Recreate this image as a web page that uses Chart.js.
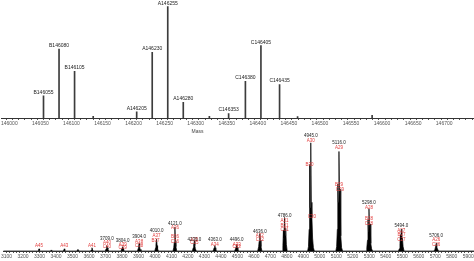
<!DOCTYPE html>
<html>
<head>
<meta charset="utf-8">
<script src="https://cdn.jsdelivr.net/npm/chart.js@4/dist/chart.umd.min.js"></script>
<style>
  body { margin: 0; background: #fff; width: 474px; height: 261px; overflow: hidden; position: relative; }
  canvas { position: absolute; left: 0; }
  #deconv { top: 0; }
  #spectrum { top: 132px; }
</style>
</head>
<body>
<canvas id="deconv" width="474" height="134"></canvas>
<canvas id="spectrum" width="474" height="129"></canvas>
<script>
// Deconvoluted masses (top panel)
const deconvMass = [146055, 146080, 146105, 146135, 146205, 146230, 146255, 146280, 146322, 146353, 146380, 146405, 146435, 146464, 146584];
const deconvInt = [20, 62, 42, 1.5, 5.5, 59, 100, 14, 1.5, 4, 33, 65, 30, 1.2, 2.5];
const deconvLabel = ['B146055', 'B146080', 'B146105', '', 'A146205', 'A146230', 'A146255', 'A146280', '', 'C146353', 'C146380', 'C146405', 'C146435', '', ''];
const deconvTicks = [146000, 146050, 146100, 146150, 146200, 146250, 146300, 146350, 146400, 146450, 146500, 146550, 146600, 146650, 146700, 146750];

// Raw m/z spectrum (bottom panel)
const specMz = [3080,
  3288, 3294, 3297, 3300, 3306,
  3366, 3372, 3378,
  3442, 3447, 3450, 3453, 3458,
  3526, 3533, 3540,
  3610, 3614, 3618, 3621, 3626,
  3699, 3704, 3706, 3709, 3712, 3715, 3720,
  3794, 3799, 3801, 3804, 3807, 3810, 3815,
  3894, 3899, 3901, 3904, 3907, 3910, 3915,
  3999, 4004, 4006, 4010, 4013, 4016, 4021,
  4109, 4114, 4117, 4121, 4124, 4127, 4132,
  4227, 4232, 4235, 4239, 4242, 4245, 4251,
  4351, 4356, 4359, 4363, 4366, 4369, 4375,
  4483, 4489, 4492, 4496, 4499, 4503, 4509,
  4623, 4629, 4632, 4636, 4639, 4643, 4649,
  4771, 4776, 4779, 4782, 4786, 4789, 4793, 4797, 4802,
  4926, 4931, 4935, 4938, 4941, 4945, 4948, 4952, 4956, 4961, 4967,
  5097, 5102, 5106, 5109, 5112, 5116, 5119, 5123, 5127, 5132, 5138,
  5280, 5285, 5289, 5292, 5295, 5298, 5301, 5305, 5309, 5314, 5320,
  5477, 5482, 5486, 5489, 5491, 5494, 5497, 5501, 5505, 5511,
  5692, 5698, 5702, 5706, 5709, 5713, 5720,
  5935];
const specInt = [0,
  0, 0.8, 2, 0.8, 0,
  0, 1, 0,
  0, 0.8, 2, 0.8, 0,
  0, 1.5, 0,
  0, 1, 3, 1.5, 0,
  0, 2, 3.5, 5, 3, 1.5, 0,
  0, 2, 3, 4, 2.5, 1, 0,
  0, 2.5, 4, 7, 4, 1.5, 0,
  0, 3, 6, 11, 5, 2, 0,
  0, 3, 8, 22, 9, 4, 0,
  0, 3, 6, 9, 5, 2, 0,
  0, 1.5, 3, 5, 3, 1, 0,
  0, 2, 4, 6, 3.5, 1, 0,
  0, 4, 9, 16, 10, 4, 0,
  0, 5, 19, 12, 31, 14, 21, 6, 0,
  0, 4, 20, 80, 40, 100, 45, 31, 12, 3, 0,
  0, 4, 20, 62, 45, 92, 50, 57, 14, 3, 0,
  0, 3, 10, 29, 18, 39, 20, 25, 7, 2, 0,
  0, 2, 7, 15, 10, 20, 11, 12, 4, 0,
  0, 1.5, 4, 7, 4, 2, 0,
  0];
const spectrumTicks = [3100, 3200, 3300, 3400, 3500, 3600, 3700, 3800, 3900, 4000, 4100, 4200, 4300, 4400, 4500, 4600, 4700, 4800, 4900, 5000, 5100, 5200, 5300, 5400, 5500, 5600, 5700, 5800, 5900];

// Peak annotations: m/z, height to put the text at, text
const mzLabelPos = [3709, 3804, 3904, 4010, 4121, 4239, 4363, 4496, 4636, 4786, 4945, 5116, 5298, 5494, 5706];
const mzLabelAt = [11, 9.2, 12.8, 18.3, 24.8, 10, 10, 10, 17.4, 33, 106.4, 100, 45, 23, 13.8];
const mzLabelText = ['3709.0', '3804.0', '3904.0', '4010.0', '4121.0', '4239.0', '4363.0', '4496.0', '4636.0', '4786.0', '4945.0', '5116.0', '5298.0', '5494.0', '5706.0'];

const ionLabelPos = [3297, 3450, 3618, 3709, 3709, 3804, 3804, 3904, 3904, 4010, 4004,
  4121, 4121, 4121, 4239, 4239, 4363, 4496, 4496, 4636, 4636, 4786, 4786, 4786,
  4945, 4938, 4952, 5116, 5116, 5122, 5298, 5298, 5298, 5494, 5496, 5494, 5706, 5706];
const ionLabelAt = [4.6, 4.6, 4.6, 7.3, 3.7, 5.5, 2.8, 8.3, 4.6, 13.8, 9.2,
  21.1, 12.8, 8.3, 10, 7.3, 5.5, 5.5, 3.7, 13.8, 10, 28.4, 23, 19.3,
  101.8, 79.8, 31.2, 95.4, 61.5, 56.9, 40.4, 29.4, 24.8, 18.3, 14.7, 10, 10, 5.5];
const ionLabelText = ['A45', 'A43', 'A41', 'A40', 'C40', 'A39', 'C39', 'A38', 'C38', 'A37', 'B37',
  'A36', 'B36', 'C36', 'A35', 'C35', 'A34', 'A33', 'C33', 'A32', 'C32', 'A31', 'B31', 'C31',
  'A30', 'B30', 'C30', 'A29', 'B29', 'C29', 'A28', 'B28', 'C28', 'A27', 'B27', 'C27', 'A26', 'C26'];

const fontFamily = "'Liberation Sans', Arial, sans-serif";

function minorTicks(from, to, step) {
  const out = [];
  for (let v = from; v <= to; v += step) out.push({ value: v });
  return out;
}

// Text drawn at the top of the sticks in the deconvoluted panel
const deconvLabelsPlugin = {
  id: 'deconvLabels',
  afterDatasetsDraw(chart) {
    const ctx = chart.ctx;
    const xs = chart.scales.x;
    const ys = chart.scales.y;
    ctx.save();
    ctx.font = '5px ' + fontFamily;
    ctx.fillStyle = '#222';
    ctx.textAlign = 'center';
    ctx.textBaseline = 'bottom';
    deconvMass.forEach((m, i) => {
      if (!deconvLabel[i]) return;
      ctx.fillText(deconvLabel[i], xs.getPixelForValue(m), ys.getPixelForValue(deconvInt[i]) - 1);
    });
    ctx.textBaseline = 'middle';
    ctx.fillStyle = '#444';
    ctx.fillText('Mass', xs.getPixelForValue(146303), chart.chartArea.bottom + 14);
    ctx.restore();
  }
};

const spectrumLabelsPlugin = {
  id: 'spectrumLabels',
  afterDatasetsDraw(chart) {
    const ctx = chart.ctx;
    const xs = chart.scales.x;
    const ys = chart.scales.y;
    ctx.save();
    ctx.font = '4.5px ' + fontFamily;
    ctx.textAlign = 'center';
    ctx.textBaseline = 'middle';
    ctx.fillStyle = '#e23c3c';
    ionLabelPos.forEach((m, i) => {
      ctx.fillText(ionLabelText[i], xs.getPixelForValue(m), ys.getPixelForValue(ionLabelAt[i]));
    });
    ctx.fillStyle = '#222';
    mzLabelPos.forEach((m, i) => {
      ctx.fillText(mzLabelText[i], xs.getPixelForValue(m), ys.getPixelForValue(mzLabelAt[i]));
    });
    ctx.restore();
  }
};

// Top panel: deconvoluted stick spectrum
new Chart(document.getElementById('deconv'), {
  type: 'bar',
  data: {
    datasets: [{
      data: deconvMass.map((m, i) => ({ x: m, y: deconvInt[i] })),
      backgroundColor: '#3c3c3c',
      barThickness: 1
    }]
  },
  options: {
    responsive: false,
    animation: false,
    devicePixelRatio: 1,
    layout: { padding: { left: 0, right: 0, top: 0, bottom: 6 } },
    plugins: { legend: { display: false }, tooltip: { enabled: false } },
    scales: {
      x: {
        type: 'linear',
        offset: false,
        min: 145987,
        max: 146748,
        afterBuildTicks: axis => { axis.ticks = minorTicks(146000, 146740, 10); },
        ticks: {
          autoSkip: false,
          maxRotation: 0,
          padding: 1,
          color: '#555',
          font: { family: fontFamily, size: 5 },
          callback: v => (deconvTicks.includes(v) ? String(v) : '')
        },
        grid: { drawOnChartArea: false, tickLength: 2, tickColor: '#555' },
        border: { display: true, color: '#333', width: 1 }
      },
      y: {
        display: false,
        min: 0,
        max: 106
      }
    }
  },
  plugins: [deconvLabelsPlugin]
});

// Bottom panel: raw m/z spectrum
new Chart(document.getElementById('spectrum'), {
  type: 'line',
  data: {
    datasets: [{
      data: specMz.map((m, i) => ({ x: m, y: specInt[i] })),
      borderColor: '#000',
      borderWidth: 0.7,
      backgroundColor: '#000',
      fill: 'origin',
      pointRadius: 0,
      tension: 0
    }]
  },
  options: {
    responsive: false,
    animation: false,
    devicePixelRatio: 1,
    layout: { padding: 0 },
    plugins: { legend: { display: false }, tooltip: { enabled: false } },
    scales: {
      x: {
        type: 'linear',
        min: 3080,
        max: 5935,
        afterBuildTicks: axis => { axis.ticks = minorTicks(3100, 5920, 20); },
        ticks: {
          autoSkip: false,
          maxRotation: 0,
          padding: 1,
          color: '#555',
          font: { family: fontFamily, size: 5 },
          callback: v => (spectrumTicks.includes(v) ? String(v) : '')
        },
        grid: { drawOnChartArea: false, tickLength: 2, tickColor: '#555' },
        border: { display: true, color: '#333', width: 1 }
      },
      y: {
        display: false,
        min: 0,
        max: 110
      }
    }
  },
  plugins: [spectrumLabelsPlugin]
});
</script>
</body>
</html>
